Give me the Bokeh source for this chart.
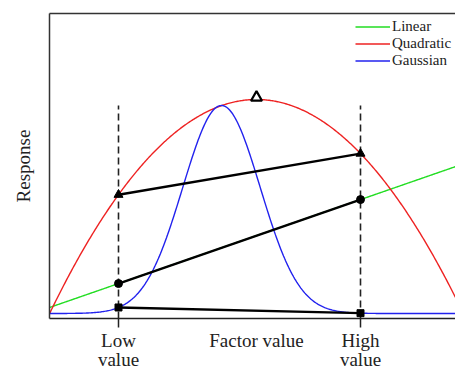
import numpy as np
from bokeh.plotting import figure
from bokeh.models import LinearAxis, FixedTicker, Range1d, Legend, LegendItem
from bokeh.embed import file_html
from bokeh.resources import INLINE

# ---- data ----
x_limits = [0.0, 4.06]
y_limits = [0.0, 3.05]
low_value = 0.69
high_value = 3.11
factor_ticks = [low_value, high_value]
series_names = ["Linear", "Quadratic", "Gaussian"]
series_colors = ["#22dd22", "#ee2222", "#2222ee"]
linear_params = [0.11, 0.347]             # intercept, slope
quadratic_params = [2.19, 2.07, 0.50]     # peak height, peak position, curvature
gaussian_params = [0.05, 2.08, 1.72, 0.387]  # baseline, amplitude, centre, width
dash_top = 2.13
label_ticks = [low_value, quadratic_params[1], high_value]
tick_labels = ["Low\nvalue", "Factor value", "High\nvalue"]

def linear(x):
    a, b = linear_params
    return a + b * x

def quadratic(x):
    h, c, k = quadratic_params
    return h - k * (x - c) ** 2

def gaussian(x):
    b0, amp, c, s = gaussian_params
    return b0 + amp * np.exp(-((x - c) ** 2) / (2 * s ** 2))

funcs = [linear, quadratic, gaussian]

p = figure(width=455, height=372, x_range=Range1d(*x_limits), y_range=Range1d(*y_limits),
           output_backend="svg", toolbar_location=None,
           x_axis_location=None, y_axis_location=None,
           min_border_left=49, min_border_right=0, min_border_top=13, min_border_bottom=10)
p.outline_line_color = None
p.grid.visible = False
p.background_fill_color = "white"

serif = "Liberation Serif"
ink = "#222222"

# axis line with tick marks only
xaxis = LinearAxis(ticker=FixedTicker(ticks=factor_ticks),
                   major_label_overrides={t: "" for t in factor_ticks}, major_label_standoff=0,
                   major_label_text_font_size="1px",
                   major_tick_out=9, major_tick_in=0, minor_tick_out=0, minor_tick_in=0,
                   axis_line_width=1.5, major_tick_line_width=1.5,
                   axis_line_color=ink, major_tick_line_color=ink)
p.add_layout(xaxis, "below")

# text labels under the ticks
xlab = LinearAxis(ticker=FixedTicker(ticks=label_ticks),
                  major_label_overrides=dict(zip(label_ticks, tick_labels)),
                  axis_line_color=None, major_tick_line_color=None, minor_tick_line_color=None,
                  major_tick_out=0, major_tick_in=0, minor_tick_out=0, minor_tick_in=0,
                  major_label_text_font=serif, major_label_text_font_size="19px",
                  major_label_text_color=ink, major_label_text_line_height=0.92,
                  major_label_standoff=2)
p.add_layout(xlab, "below")

yaxis = LinearAxis(ticker=FixedTicker(ticks=[]),
                   major_tick_out=0, major_tick_in=0, minor_tick_out=0, minor_tick_in=0,
                   axis_line_width=1.5, axis_line_color="#333333",
                   axis_label="Response", axis_label_text_font=serif,
                   axis_label_text_font_size="19px", axis_label_text_font_style="normal",
                   axis_label_text_color=ink, axis_label_standoff=16)
p.add_layout(yaxis, "left")

top = LinearAxis(ticker=FixedTicker(ticks=[]),
                 major_tick_out=0, major_tick_in=0, minor_tick_out=0, minor_tick_in=0,
                 axis_line_width=1.5, axis_line_color="#333333")
p.add_layout(top, "above")

xs = np.linspace(x_limits[0], x_limits[1], 400)
items = []
for name, col, f in zip(series_names, series_colors, funcs):
    r = p.line(xs, f(xs), line_color=col, line_width=1.4)
    items.append(LegendItem(label=name, renderers=[r]))

# dashed guide lines
p.segment(x0=factor_ticks, y0=[0, 0], x1=factor_ticks, y1=[dash_top, dash_top],
          line_color=ink, line_width=1.6, line_dash="7 4")

# connecting lines between low and high value responses
lo_hi = np.array(factor_ticks)
for f, marker, size in [(quadratic, "triangle", 9), (linear, "circle", 8), (gaussian, "square", 7)]:
    ys = f(lo_hi)
    p.line(lo_hi, ys, line_color="black", line_width=2.4)
    p.scatter(lo_hi, ys, marker=marker, size=size, fill_color="black", line_color="black")

# optimum marker
p.scatter([quadratic_params[1]], [quadratic_params[0] + 0.02], marker="triangle", size=11,
          fill_color="white", line_color="black", line_width=2.2)

legend = Legend(items=items, location=(306, 249), margin=0, padding=0,
                border_line_color=None, background_fill_alpha=0,
                glyph_width=35, glyph_height=17, label_height=17, label_standoff=2,
                spacing=0, label_text_font=serif, label_text_font_size="15px",
                label_text_color=ink)
p.add_layout(legend)

open("out.html", "w").write(file_html(p, INLINE))
